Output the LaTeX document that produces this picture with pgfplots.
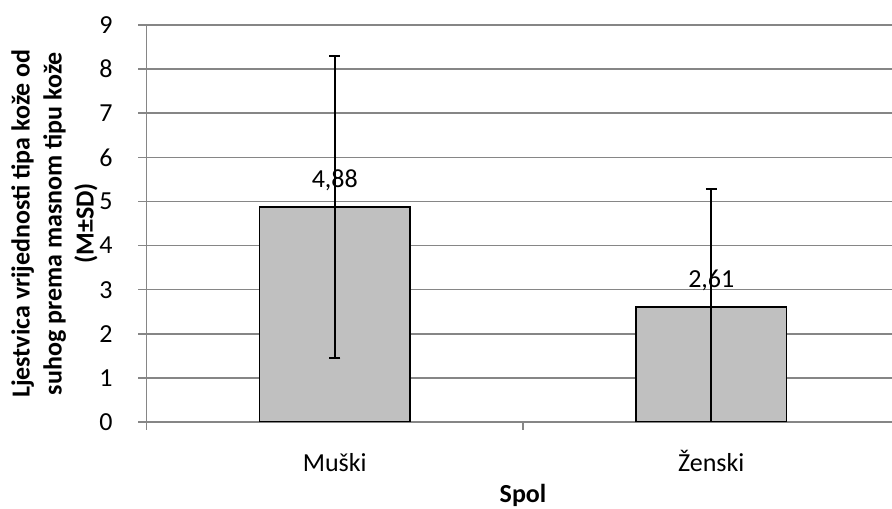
\documentclass[border=0pt]{standalone}
\usepackage{fontspec}
\setmainfont{Carlito}
\usepackage{pgfplots}
\pgfplotsset{compat=1.18}

\definecolor{gridgray}{RGB}{134,134,134}
\definecolor{barfill}{RGB}{192,192,192}
\newcommand{\chartfont}{\fontsize{13}{16}\selectfont}

\begin{document}
\begin{tikzpicture}[font=\chartfont]
\begin{axis}[
	scale only axis,
	width=372.75pt, height=198.5pt,
	ybar,
	bar width=0.4,
	xmin=-0.5, xmax=1.48,
	ymin=0, ymax=9,
	axis lines*=left,
	axis line style={draw=gridgray, line width=0.75pt},
	ytick={0,...,9},
	ymajorgrids,
	grid style={draw=gridgray, line width=0.75pt},
	tick align=outside,
	major tick length=4pt,
	ytick style={draw=gridgray, line width=0.75pt},
	xtick={0,1},
	xticklabels={Muški,Ženski},
	xtick style={draw=none},
	extra x ticks={-0.5,0.5},
	extra x tick labels={},
	extra x tick style={grid=none, xtick style={draw=gridgray, line width=0.75pt}},
	/pgf/number format/assume math mode=true,
	tick label style={font=\chartfont},
	yticklabel style={anchor=east, inner sep=0pt, xshift=-12.75pt},
	xticklabel style={anchor=base, inner sep=0pt, yshift=-21pt},
	xlabel={Spol},
	xlabel style={at={(axis cs:0.5,0)}, anchor=base, inner sep=0pt, yshift=-40.5pt, font=\bfseries\chartfont},
	ylabel={Ljestvica vrijednosti tipa kože od\\suhog prema masnom tipu kože\\(M±SD)},
	ylabel style={at={(axis description cs:-0.0651,0.5)}, anchor=south, inner sep=0pt,
		align=center, font=\bfseries\chartfont},
	]
	\addplot[
		fill=barfill, draw=black, line width=0.8pt,
		nodes near coords={\pgfmathprintnumber[fixed,fixed zerofill,precision=2,use comma]{\pgfplotspointmeta}},
		every node near coord/.append style={anchor=base, inner sep=0pt, yshift=9.5pt, black, font=\chartfont},
		error bars/.cd,
		y dir=both,
		y explicit,
		error bar style={line width=1pt, black},
		error mark options={rotate=90, mark size=2.75pt, line width=1pt, black}
	]
	table [x=x, y=y, y error plus=sdp, y error minus=sdm] {
		x   y     sdp   sdm
		0   4.88  3.42  3.42
		1   2.61  2.67  2.67
	};
	\coordinate (bl) at (rel axis cs:0,0);
	\coordinate (tr) at (rel axis cs:1,1);
\end{axis}
\pgfresetboundingbox
\path[use as bounding box] ([shift={(-73.25pt,-43.5pt)}]bl) rectangle ([yshift=12.5pt]tr);
\end{tikzpicture}
\end{document}
